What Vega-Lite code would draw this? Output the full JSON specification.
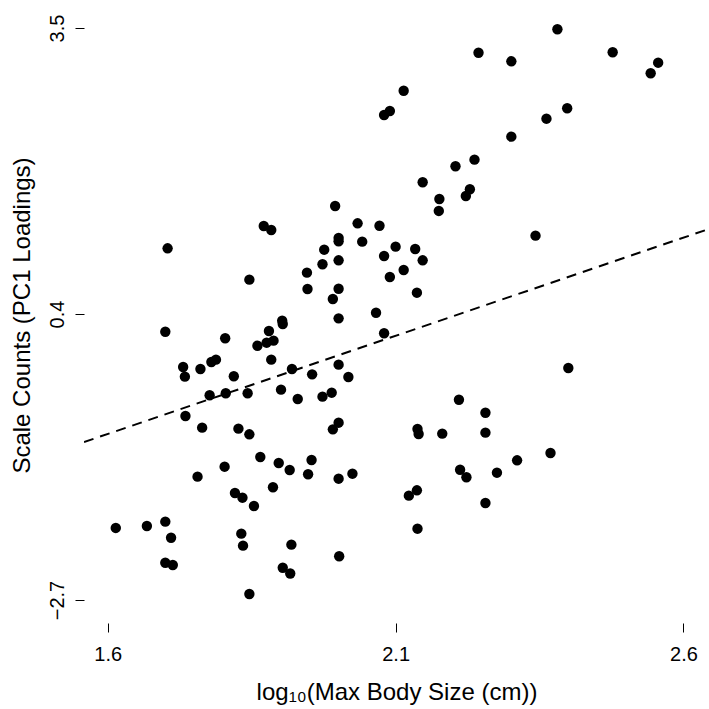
{
  "$schema": "https://vega.github.io/schema/vega-lite/v6.json",
  "width": 625,
  "height": 616,
  "autosize": {"type": "none"},
  "padding": {"left": 84, "top": 7, "right": 0, "bottom": 86},
  "background": "white",
  "config": {
    "view": {"stroke": null},
    "font": "Liberation Sans",
    "axis": {"domain": false, "grid": false, "tickColor": "black", "tickWidth": 1, "tickSize": 9, "labelColor": "black", "labelFontSize": 20, "labelFont": "Liberation Sans", "titleFont": "Liberation Sans", "titleFontSize": 24, "titleFontWeight": "normal", "titleColor": "black"}
  },
  "datasets": {
    "species": [
      {"logsize": 2.244, "pc1": 3.232}, {"logsize": 2.114, "pc1": 2.820}, {"logsize": 2.090, "pc1": 2.600}, {"logsize": 2.080, "pc1": 2.557},
      {"logsize": 2.237, "pc1": 2.073}, {"logsize": 2.204, "pc1": 2.001}, {"logsize": 2.147, "pc1": 1.828}, {"logsize": 2.229, "pc1": 1.752},
      {"logsize": 2.222, "pc1": 1.679}, {"logsize": 2.176, "pc1": 1.647}, {"logsize": 1.995, "pc1": 1.571}, {"logsize": 2.175, "pc1": 1.517},
      {"logsize": 2.381, "pc1": 3.486}, {"logsize": 2.301, "pc1": 3.139}, {"logsize": 2.477, "pc1": 3.237}, {"logsize": 2.556, "pc1": 3.124},
      {"logsize": 2.543, "pc1": 3.009}, {"logsize": 2.398, "pc1": 2.630}, {"logsize": 2.362, "pc1": 2.517}, {"logsize": 2.301, "pc1": 2.322},
      {"logsize": 1.704, "pc1": 1.112}, {"logsize": 1.871, "pc1": 1.354}, {"logsize": 1.884, "pc1": 1.311}, {"logsize": 1.846, "pc1": 0.772},
      {"logsize": 1.700, "pc1": 0.208}, {"logsize": 1.903, "pc1": 0.327}, {"logsize": 1.904, "pc1": 0.292}, {"logsize": 1.880, "pc1": 0.216},
      {"logsize": 1.804, "pc1": 0.137}, {"logsize": 1.888, "pc1": 0.111}, {"logsize": 1.876, "pc1": 0.089}, {"logsize": 1.860, "pc1": 0.056},
      {"logsize": 1.884, "pc1": -0.095}, {"logsize": 1.731, "pc1": -0.174}, {"logsize": 1.734, "pc1": -0.279}, {"logsize": 1.761, "pc1": -0.196},
      {"logsize": 1.780, "pc1": -0.120}, {"logsize": 1.788, "pc1": -0.095}, {"logsize": 1.819, "pc1": -0.275}, {"logsize": 1.920, "pc1": -0.196},
      {"logsize": 1.777, "pc1": -0.481}, {"logsize": 1.805, "pc1": -0.459}, {"logsize": 1.843, "pc1": -0.459}, {"logsize": 1.901, "pc1": -0.420},
      {"logsize": 1.930, "pc1": -0.521}, {"logsize": 2.034, "pc1": 1.383}, {"logsize": 2.072, "pc1": 1.357}, {"logsize": 2.001, "pc1": 1.224},
      {"logsize": 2.001, "pc1": 1.188}, {"logsize": 2.042, "pc1": 1.184}, {"logsize": 1.976, "pc1": 1.097}, {"logsize": 2.100, "pc1": 1.130},
      {"logsize": 2.134, "pc1": 1.105}, {"logsize": 2.080, "pc1": 1.029}, {"logsize": 2.147, "pc1": 0.982}, {"logsize": 1.973, "pc1": 0.939},
      {"logsize": 2.001, "pc1": 0.982}, {"logsize": 2.114, "pc1": 0.877}, {"logsize": 2.090, "pc1": 0.801}, {"logsize": 1.946, "pc1": 0.848},
      {"logsize": 1.947, "pc1": 0.671}, {"logsize": 2.001, "pc1": 0.674}, {"logsize": 1.991, "pc1": 0.563}, {"logsize": 2.137, "pc1": 0.631},
      {"logsize": 2.001, "pc1": 0.353}, {"logsize": 2.066, "pc1": 0.414}, {"logsize": 2.080, "pc1": 0.191}, {"logsize": 1.955, "pc1": -0.254},
      {"logsize": 2.001, "pc1": -0.149}, {"logsize": 2.018, "pc1": -0.283}, {"logsize": 1.973, "pc1": -0.496}, {"logsize": 1.989, "pc1": -0.453},
      {"logsize": 2.210, "pc1": -0.529}, {"logsize": 2.343, "pc1": 1.249}, {"logsize": 2.400, "pc1": -0.185}, {"logsize": 1.735, "pc1": -0.706},
      {"logsize": 1.764, "pc1": -0.832}, {"logsize": 1.827, "pc1": -0.843}, {"logsize": 1.846, "pc1": -0.904}, {"logsize": 1.865, "pc1": -1.150},
      {"logsize": 1.897, "pc1": -1.215}, {"logsize": 1.916, "pc1": -1.291}, {"logsize": 1.803, "pc1": -1.255}, {"logsize": 1.756, "pc1": -1.363},
      {"logsize": 1.887, "pc1": -1.478}, {"logsize": 1.821, "pc1": -1.540}, {"logsize": 1.834, "pc1": -1.591}, {"logsize": 1.854, "pc1": -1.681},
      {"logsize": 1.614, "pc1": -1.919}, {"logsize": 1.668, "pc1": -1.898}, {"logsize": 1.700, "pc1": -1.851}, {"logsize": 1.710, "pc1": -2.025},
      {"logsize": 1.832, "pc1": -1.981}, {"logsize": 1.835, "pc1": -2.111}, {"logsize": 1.919, "pc1": -2.100}, {"logsize": 1.700, "pc1": -2.296},
      {"logsize": 1.713, "pc1": -2.321}, {"logsize": 1.904, "pc1": -2.350}, {"logsize": 1.917, "pc1": -2.413}, {"logsize": 1.846, "pc1": -2.635},
      {"logsize": 2.256, "pc1": -0.670}, {"logsize": 2.256, "pc1": -0.886}, {"logsize": 2.001, "pc1": -0.778}, {"logsize": 1.991, "pc1": -0.850},
      {"logsize": 2.138, "pc1": -0.846}, {"logsize": 2.140, "pc1": -0.901}, {"logsize": 2.181, "pc1": -0.897}, {"logsize": 1.954, "pc1": -1.182},
      {"logsize": 1.948, "pc1": -1.337}, {"logsize": 2.001, "pc1": -1.385}, {"logsize": 2.025, "pc1": -1.331}, {"logsize": 2.212, "pc1": -1.288},
      {"logsize": 2.223, "pc1": -1.370}, {"logsize": 2.276, "pc1": -1.320}, {"logsize": 2.137, "pc1": -1.511}, {"logsize": 2.123, "pc1": -1.569},
      {"logsize": 2.256, "pc1": -1.649}, {"logsize": 2.138, "pc1": -1.927}, {"logsize": 2.002, "pc1": -2.226}, {"logsize": 2.369, "pc1": -1.107},
      {"logsize": 2.311, "pc1": -1.186}
    ],
    "fit": [
      {"logsize": 1.5588, "pc1": -0.988},
      {"logsize": 2.6443, "pc1": 1.322}
    ]
  },
  "layer": [
    {
      "data": {"name": "species"},
      "mark": {"type": "point", "filled": true, "shape": "circle", "size": 108, "color": "black", "opacity": 1},
      "encoding": {
        "x": {"field": "logsize", "type": "quantitative",
              "scale": {"domain": [1.5588, 2.6443], "nice": false, "zero": false},
              "axis": {"values": [1.6, 2.1, 2.6], "format": ".1f", "labelPadding": 12, "title": "log₁₀(Max Body Size (cm))", "titleX": 312.5, "titleY": 69, "titleBaseline": "middle", "titleAlign": "center"}},
        "y": {"field": "pc1", "type": "quantitative",
              "scale": {"domain": [-2.9493, 3.7276], "nice": false, "zero": false},
              "axis": {"values": [-2.7, 0.4, 3.5], "format": ".1f", "labelAngle": 270, "labelAlign": "center", "labelBaseline": "bottom", "labelPadding": 8, "title": "Scale Counts (PC1 Loadings)", "titleAngle": 270, "titleX": -62, "titleY": 308, "titleBaseline": "middle", "titleAlign": "center"}}
      }
    },
    {
      "data": {"name": "fit"},
      "mark": {"type": "line", "color": "black", "strokeWidth": 2, "strokeDash": [10, 7], "clip": true},
      "encoding": {
        "x": {"field": "logsize", "type": "quantitative"},
        "y": {"field": "pc1", "type": "quantitative"}
      }
    },
    {
      "mark": {"type": "rule", "color": "black", "strokeWidth": 1.2},
      "encoding": {
        "x": {"datum": 1.6, "type": "quantitative"},
        "x2": {"datum": 2.6},
        "y": {"datum": -2.9493, "type": "quantitative"}
      }
    },
    {
      "mark": {"type": "rule", "color": "black", "strokeWidth": 1.2},
      "encoding": {
        "x": {"datum": 1.5588, "type": "quantitative"},
        "y": {"datum": -2.7, "type": "quantitative"},
        "y2": {"datum": 3.5}
      }
    },
    {
      "mark": {"type": "text", "text": "p < 0.0001", "align": "left", "baseline": "alphabetic", "fontSize": 20, "font": "Liberation Sans", "color": "black"},
      "encoding": {
        "x": {"datum": 1.598, "type": "quantitative"},
        "y": {"datum": 3.359, "type": "quantitative"}
      }
    }
  ]
}
